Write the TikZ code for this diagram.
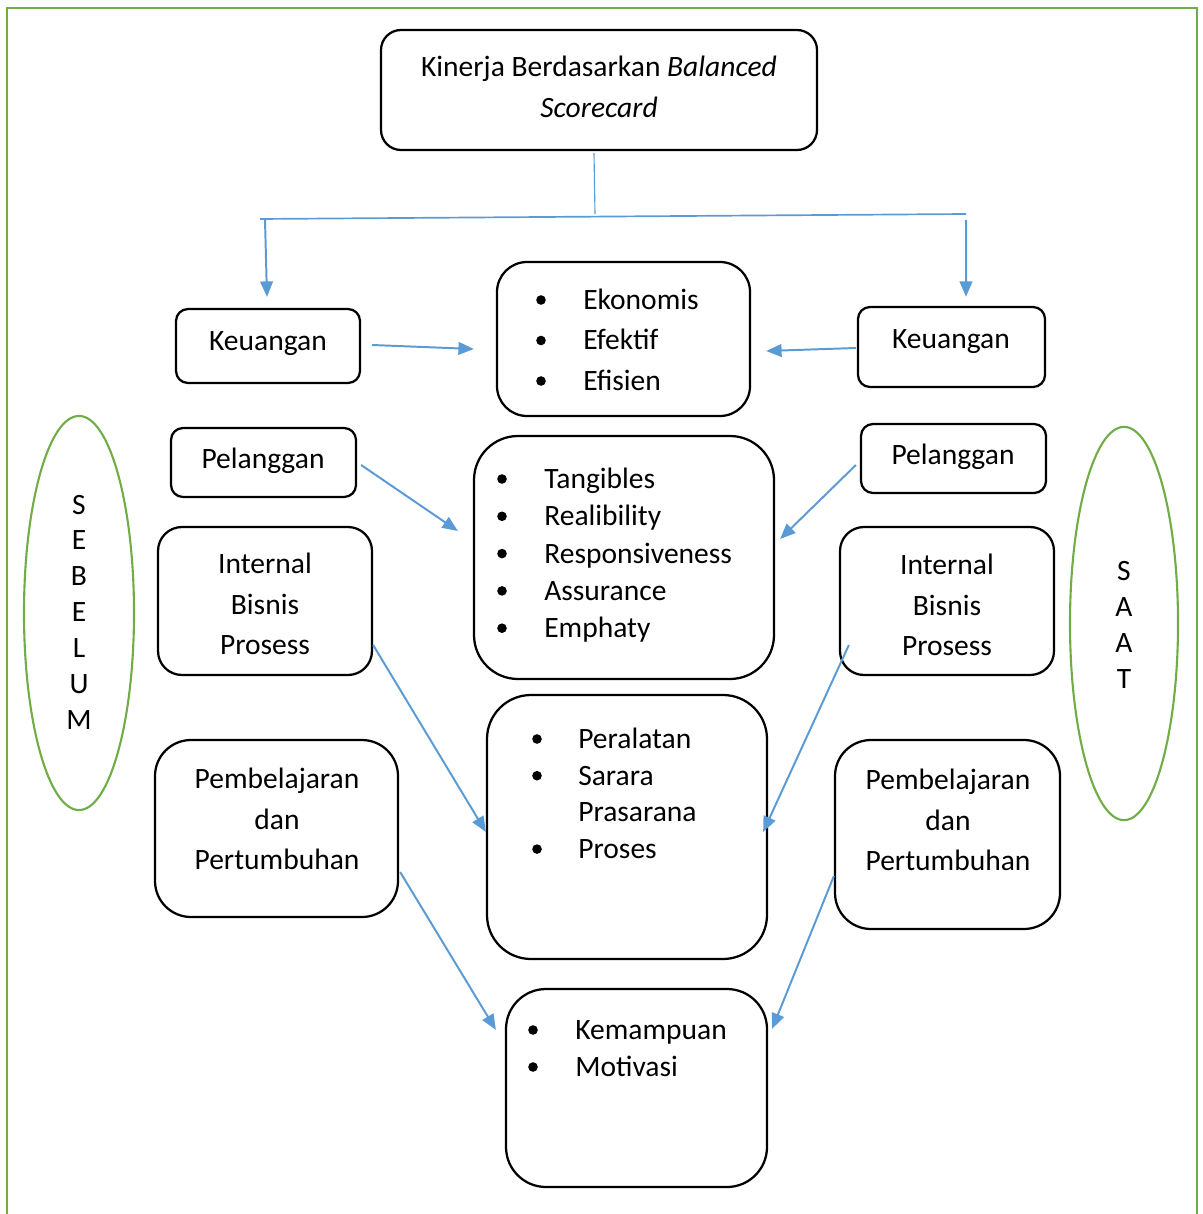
\documentclass[tikz,border=0pt]{standalone}
\usepackage{fontspec}
\setmainfont{Carlito}
\usetikzlibrary{arrows.meta, calc, fit, shapes.geometric}
\definecolor{panah}{HTML}{5B9BD5}
\definecolor{hijau}{HTML}{70AD47}
\tikzset{
  kotak/.style={draw=black, line width=1.6pt, inner sep=0pt},
  oval/.style={ellipse, draw=hijau, line width=1.5pt, inner sep=0pt},
  panahbiru/.style={draw=panah, line width=1.4pt, -{Triangle[length=11pt, width=9pt]}},
  garis/.style={draw=panah, line width=0.8pt},
  baris/.style={anchor=west, text height=13.5pt, text depth=0pt, inner sep=0pt},
}

\begin{document}
\begin{tikzpicture}[x=0.025cm, y=-0.025cm, font=\fontsize{21}{29}\selectfont]
\useasboundingbox (0,0) rectangle (1202,1214);
% bingkai halaman
\draw[hijau, line width=1.5pt] (7,8) rectangle (1197,1240);

% kotak-kotak
\node[kotak, rounded corners=0.5cm, fit={(381,30) (817,150)}] (judul) {};
\node[align=center] (tJudul) at (599,87) {Kinerja Berdasarkan \textit{Balanced}\\\textit{Scorecard}};

\node[kotak, rounded corners=0.3cm, fit={(176,309) (360,383)}] (keuL) {};
\node[kotak, rounded corners=0.3cm, fit={(858,307) (1045,387)}] (keuR) {};
\node[kotak, rounded corners=0.3cm, fit={(171,428) (356,497)}] (pelL) {};
\node[kotak, rounded corners=0.3cm, fit={(861,424) (1046,493)}] (pelR) {};
\node[kotak, rounded corners=0.6cm, fit={(158,527) (372,675)}] (intL) {};
\node[kotak, rounded corners=0.6cm, fit={(840,527) (1054,675)}] (intR) {};
\node[kotak, rounded corners=0.9cm, fit={(155,740) (398,917)}] (pemL) {};
\node[kotak, rounded corners=0.9cm, fit={(835,740) (1060,929)}] (pemR) {};

\node (tKeuL) at (268,344) {Keuangan};
\node (tKeuR) at (951,342) {Keuangan};
\node (tPelL) at (263,461) {Pelanggan};
\node (tPelR) at (953,457) {Pelanggan};
\node[align=center] (tIntL) at (265,604) {Internal\\Bisnis\\Prosess};
\node[align=center] (tIntR) at (947,605) {Internal\\Bisnis\\Prosess};
\node[align=center] (tPemL) at (277,819) {Pembelajaran\\dan\\Pertumbuhan};
\node[align=center] (tPemR) at (948,820) {Pembelajaran\\dan\\Pertumbuhan};

\node[kotak, rounded corners=0.75cm, fit={(497,262) (750,416)}] (ekon) {};
\node[kotak, rounded corners=1.1cm, fit={(474,436) (774,679)}] (layan) {};
\node[kotak, rounded corners=1.1cm, fit={(487,695) (767,959)}] (sarana) {};
\node[kotak, rounded corners=1cm, fit={(506,989) (767,1187)}] (sdm) {};

\foreach \teks [count=\i from 0] in {Ekonomis, Efektif, Efisien} {
  \fill (541,300+40.5*\i) circle[radius=0.12cm];
  \node[baris] (ekon\i) at (583,300+40.5*\i) {\teks};
}
\foreach \teks [count=\i from 0] in {Tangibles, Realibility, Responsiveness, Assurance, Emphaty} {
  \fill (502,479+37.3*\i) circle[radius=0.12cm];
  \node[baris] (layan\i) at (544,479+37.3*\i) {\teks};
}
\foreach \teks/\titik [count=\i from 0] in {Peralatan/1, Sarara/1, Prasarana/0, Proses/1} {
  \ifnum\titik=1
    \fill (537,739+36.7*\i) circle[radius=0.12cm];
  \fi
  \node[baris] (sarana\i) at (578,739+36.7*\i) {\teks};
}
\foreach \teks [count=\i from 0] in {Kemampuan, Motivasi} {
  \fill (533,1030+37*\i) circle[radius=0.12cm];
  \node[baris] (sdm\i) at (575,1030+37*\i) {\teks};
}

% oval samping
\node[oval, minimum width=2.75cm, minimum height=9.85cm] (sebelum) at (79,613) {};
\node[align=center, font=\fontsize{21}{25.5}\selectfont] (tSebelum) at (79,612) {S\\E\\B\\E\\L\\U\\M};
\node[oval, minimum width=2.7cm, minimum height=9.83cm] (saat) at (1124,623.5) {};
\node[align=center, font=\fontsize{21}{25.5}\selectfont] (tSaat) at (1124,625) {S\\A\\A\\T};

% penghubung
\coordinate (cabang) at (595,214);
\coordinate (cabangL) at (260,219);
\coordinate (cabangR) at (966,214);
\draw[garis] ($(judul.south)+(-5,2)$) -- (cabang);
\draw[garis, line width=1.2pt] (cabangL) -- (cabangR);
\draw[panahbiru] ($(cabangL)+(5,1)$) -- ($(keuL.north)+(-1,-11)$);
\draw[panahbiru] ($(cabangR)+(0,6)$) -- ($(keuR.north)+(14.5,-9)$);
\draw[panahbiru] ($(keuL.east)+(11,-1)$) -- ($(ekon.west)+(-22,10)$);
\draw[panahbiru] ($(keuR.west)+(-1,1)$) -- ($(ekon.east)+(15,12)$);
\draw[panahbiru] ($(pelL.east)+(4,2.5)$) -- ($(layan.west)+(-15,-26.5)$);
\draw[panahbiru] ($(pelR.west)+(-4,6.5)$) -- ($(layan.east)+(5,-18.5)$);
\draw[panahbiru] ($(intL.east)+(0,44)$) -- ($(sarana.west)+(0,5)$);
\draw[panahbiru] ($(intR.west)+(10,44)$) -- ($(sarana.east)+(-5,5)$);
\draw[panahbiru] ($(pemL.east)+(1,43.5)$) -- ($(sdm.north west)+(-9,42)$);
\draw[panahbiru] ($(pemR.west)+(0,41.5)$) -- ($(sdm.north east)+(4,41)$);
\end{tikzpicture}
\end{document}
